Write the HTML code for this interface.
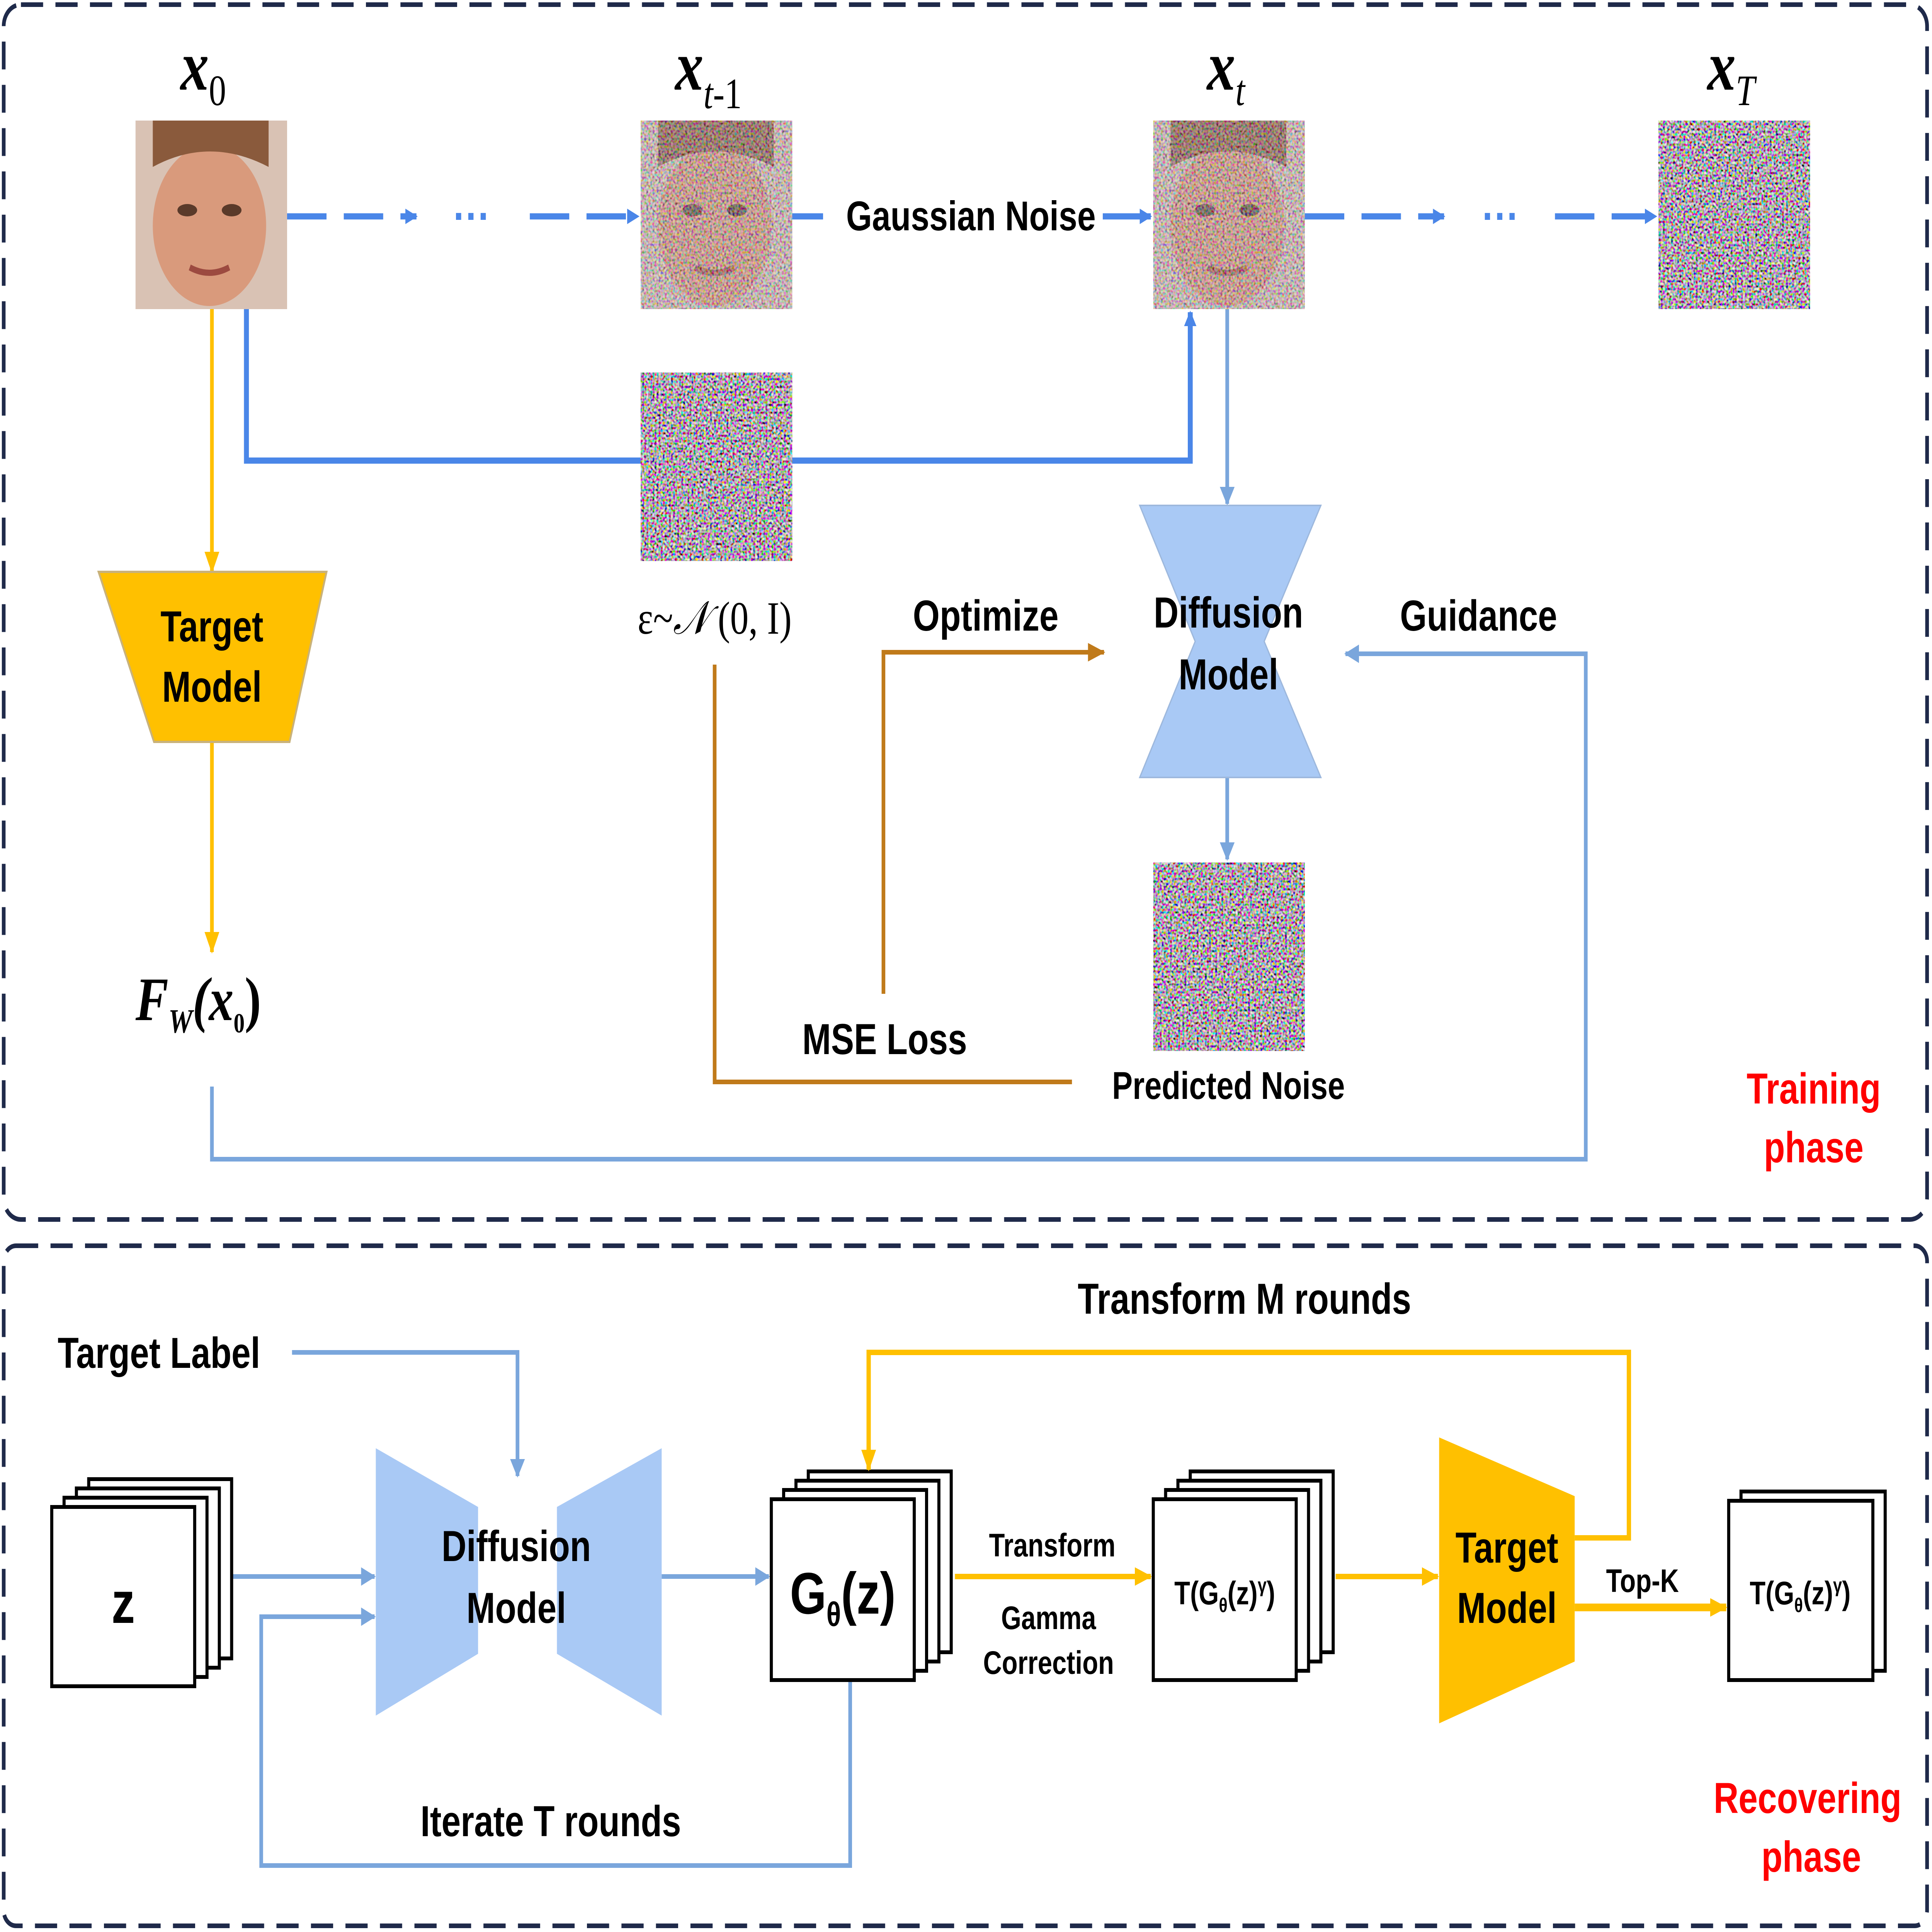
<!DOCTYPE html>
<html><head><meta charset="utf-8">
<style>html,body{margin:0;padding:0;background:#fff;width:100%;height:100%;overflow:hidden}svg{display:block;position:fixed;left:0;top:0;width:100vw;height:100vh}</style>
</head><body>
<svg viewBox="0 0 1568 1250" preserveAspectRatio="none" xmlns="http://www.w3.org/2000/svg" font-family="Liberation Sans, sans-serif">
<defs>
<filter id="nz" x="0" y="0" width="1" height="1" filterUnits="objectBoundingBox">
<feTurbulence type="fractalNoise" baseFrequency="0.6" numOctaves="1" seed="3"/>
<feColorMatrix type="matrix" values="2.4 0 0 0 -0.75  0 2.4 0 0 -0.8  0 0 2.4 0 -0.75  0 0 0 0 1"/>
</filter>
<filter id="nz2" x="0" y="0" width="1" height="1" filterUnits="objectBoundingBox">
<feTurbulence type="fractalNoise" baseFrequency="0.6" numOctaves="1" seed="8"/>
<feColorMatrix type="matrix" values="2.4 0 0 0 -0.75  0 2.4 0 0 -0.8  0 0 2.4 0 -0.75  0 0 0 0 0.5"/>
</filter>
<marker id="ab" markerWidth="10" markerHeight="10" refX="9" refY="5" orient="auto" markerUnits="userSpaceOnUse"><path d="M0,0 L10,5 L0,10 z" fill="#4a86e8"/></marker>
<marker id="al" markerWidth="12" markerHeight="12" refX="11" refY="6" orient="auto" markerUnits="userSpaceOnUse"><path d="M0,0 L12,6 L0,12 z" fill="#7aa6dc"/></marker>
<marker id="ao" markerWidth="14" markerHeight="12" refX="13" refY="6" orient="auto" markerUnits="userSpaceOnUse"><path d="M0,0 L14,6 L0,12 z" fill="#ffc000"/></marker>
<marker id="abr" markerWidth="14" markerHeight="12" refX="13" refY="6" orient="auto" markerUnits="userSpaceOnUse"><path d="M0,0 L14,6 L0,12 z" fill="#c07a1a"/></marker>
<g id="face">
<rect width="123" height="122" fill="#d9c2b4"/>
<ellipse cx="60" cy="68" rx="46" ry="52" fill="#d99a7c"/>
<path d="M14,0 H108 V30 Q60,10 14,30 Z" fill="#8a5a3c"/>
<ellipse cx="42" cy="58" rx="8" ry="4" fill="#5a3a2a"/>
<ellipse cx="78" cy="58" rx="8" ry="4" fill="#5a3a2a"/>
<path d="M44,95 Q60,102 76,95" stroke="#9c4a40" stroke-width="4" fill="none"/>
</g>
</defs>
<rect width="1568" height="1250" fill="#fff"/>
<rect x="3" y="3" width="1561" height="786" rx="14" fill="none" stroke="#1f2a4a" stroke-width="3" stroke-dasharray="18,10"/>
<rect x="3" y="806" width="1561" height="440" rx="10" fill="none" stroke="#1f2a4a" stroke-width="3" stroke-dasharray="18,10"/>

<g font-family="Liberation Serif, serif" font-style="italic" font-weight="bold" font-size="46" text-anchor="middle">
<text x="165" y="58">x<tspan font-size="28" dy="10" font-style="normal" font-weight="normal">0</tspan></text>
<text x="575" y="58">x<tspan font-size="28" dy="12" font-weight="normal">t</tspan><tspan font-size="28" font-style="normal" font-weight="normal">-1</tspan></text>
<text x="995" y="58">x<tspan font-size="28" dy="10" font-weight="normal">t</tspan></text>
<text x="1405" y="58">x<tspan font-size="28" dy="10" font-weight="normal">T</tspan></text>
</g>
<use href="#face" x="110" y="78"/>
<g transform="translate(520,78)"><use href="#face"/><rect width="123" height="122" fill="#fff" filter="url(#nz2)"/></g>
<g transform="translate(936,78)"><use href="#face"/><rect width="123" height="122" fill="#fff" filter="url(#nz2)"/></g>
<rect x="1346" y="78" width="123" height="122" filter="url(#nz)"/>
<rect x="520" y="241" width="123" height="122" filter="url(#nz)"/>
<rect x="936" y="558" width="123" height="122" filter="url(#nz)"/>

<g stroke="#4a86e8" stroke-width="4" fill="none" stroke-dasharray="32,14">
<line x1="233" y1="140" x2="338" y2="140" marker-end="url(#ab)"/>
<line x1="430" y1="140" x2="518" y2="140" marker-end="url(#ab)"/>
<line x1="1059" y1="140" x2="1172" y2="140" marker-end="url(#ab)"/>
<line x1="1262" y1="140" x2="1344" y2="140" marker-end="url(#ab)"/>
</g>
<g stroke="#4a86e8" stroke-width="4" fill="none">
<line x1="643" y1="140" x2="668" y2="140"/>
<line x1="895" y1="140" x2="934" y2="140" marker-end="url(#ab)"/>
<polyline points="200,200 200,298 520,298"/>
<polyline points="643,298 966,298 966,202" marker-end="url(#ab)"/>
</g>
<g fill="#4a86e8" font-size="30" font-weight="bold" text-anchor="middle"><text x="383" y="150">···</text><text x="1218" y="150">···</text></g>
<text x="788" y="149" font-size="27" font-weight="bold" text-anchor="middle">Gaussian Noise</text>
<text x="580" y="410" font-size="30" font-family="Liberation Serif, serif" text-anchor="middle">ε~<tspan font-style="italic">𝒩</tspan> (0, I)</text>

<g stroke="#ffc000" stroke-width="3" fill="none">
<line x1="172" y1="200" x2="172" y2="370" marker-end="url(#ao)"/>
<line x1="172" y1="480" x2="172" y2="616" marker-end="url(#ao)"/>
</g>
<polygon points="80,370 265,370 235,480 125,480" fill="#ffc000" stroke="#c9b27a" stroke-width="1.5"/>
<text x="172" y="415" font-size="28" font-weight="bold" text-anchor="middle">Target</text>
<text x="172" y="454" font-size="28" font-weight="bold" text-anchor="middle">Model</text>
<text x="110" y="660" font-size="40" font-family="Liberation Serif, serif" font-style="italic" font-weight="bold">F<tspan font-size="22" dy="8">W</tspan><tspan dy="-8">(x</tspan><tspan font-size="18" dy="8" font-style="normal">0</tspan><tspan dy="-8" font-style="normal">)</tspan></text>

<g stroke="#7aa6dc" stroke-width="3" fill="none">
<line x1="996" y1="200" x2="996" y2="326" marker-end="url(#al)"/>
<line x1="996" y1="503" x2="996" y2="556" marker-end="url(#al)"/>
<polyline points="172,703 172,750 1287,750 1287,423 1092,423" marker-end="url(#al)"/>
</g>
<polygon points="925,327 1072,327 1026,415 1072,503 925,503 970,415" fill="#a9c9f5" stroke="#9db8dd"/>
<text x="997" y="406" font-size="28" font-weight="bold" text-anchor="middle">Diffusion</text>
<text x="997" y="446" font-size="28" font-weight="bold" text-anchor="middle">Model</text>
<text x="1200" y="408" font-size="28" font-weight="bold" text-anchor="middle">Guidance</text>
<text x="800" y="408" font-size="28" font-weight="bold" text-anchor="middle">Optimize</text>
<text x="718" y="682" font-size="28" font-weight="bold" text-anchor="middle">MSE Loss</text>
<text x="997" y="711" font-size="25" font-weight="bold" text-anchor="middle">Predicted Noise</text>
<g stroke="#c07a1a" stroke-width="3" fill="none">
<polyline points="580,430 580,700 870,700"/>
<polyline points="717,643 717,422 896,422" marker-end="url(#abr)"/>
</g>
<text x="1472" y="714" font-size="28" font-weight="bold" fill="#ff0000" text-anchor="middle">Training</text>
<text x="1472" y="752" font-size="28" font-weight="bold" fill="#ff0000" text-anchor="middle">phase</text>

<text x="1010" y="850" font-size="28" font-weight="bold" text-anchor="middle">Transform M rounds</text>
<text x="129" y="885" font-size="28" font-weight="bold" text-anchor="middle">Target Label</text>
<g stroke="#7aa6dc" stroke-width="3" fill="none">
<polyline points="237,875 420,875 420,955" marker-end="url(#al)"/>
<line x1="158" y1="1020" x2="304" y2="1020" marker-end="url(#al)"/>
<line x1="537" y1="1020" x2="624" y2="1020" marker-end="url(#al)"/>
<polyline points="690,1087 690,1207 212,1207 212,1046 304,1046" marker-end="url(#al)"/>
</g>
<g stroke="#000" stroke-width="2.5" fill="#fff">
<rect x="72" y="957" width="116" height="116"/><rect x="62" y="963" width="116" height="116"/><rect x="52" y="969" width="116" height="116"/><rect x="42" y="975" width="116" height="116"/>
<rect x="656" y="952" width="116" height="117"/><rect x="646" y="958" width="116" height="117"/><rect x="636" y="964" width="116" height="117"/><rect x="626" y="970" width="116" height="117"/>
<rect x="966" y="952" width="116" height="117"/><rect x="956" y="958" width="116" height="117"/><rect x="946" y="964" width="116" height="117"/><rect x="936" y="970" width="116" height="117"/>
<rect x="1413" y="965" width="117" height="116"/><rect x="1403" y="971" width="117" height="116"/>
</g>
<text x="100" y="1050" font-size="38" font-weight="bold" text-anchor="middle">z</text>
<text x="684" y="1044" font-size="38" font-weight="bold" text-anchor="middle">G<tspan font-size="22" dy="8">θ</tspan><tspan dy="-8">(z)</tspan></text>
<text x="994" y="1038" font-size="21" font-weight="bold" text-anchor="middle">T(G<tspan font-size="13" dy="5">θ</tspan><tspan dy="-5">(z)</tspan><tspan font-size="13" dy="-8">γ</tspan><tspan dy="8">)</tspan></text>
<text x="1461" y="1038" font-size="21" font-weight="bold" text-anchor="middle">T(G<tspan font-size="13" dy="5">θ</tspan><tspan dy="-5">(z)</tspan><tspan font-size="13" dy="-8">γ</tspan><tspan dy="8">)</tspan></text>
<polygon points="305,937 388,975 388,1070 305,1110" fill="#a9c9f5"/>
<polygon points="537,937 452,975 452,1070 537,1110" fill="#a9c9f5"/>
<text x="419" y="1010" font-size="28" font-weight="bold" text-anchor="middle">Diffusion</text>
<text x="419" y="1050" font-size="28" font-weight="bold" text-anchor="middle">Model</text>
<text x="447" y="1188" font-size="28" font-weight="bold" text-anchor="middle">Iterate T rounds</text>
<g stroke="#ffc000" stroke-width="3.5" fill="none">
<line x1="775" y1="1020" x2="934" y2="1020" marker-end="url(#ao)"/>
<line x1="1084" y1="1020" x2="1167" y2="1020" marker-end="url(#ao)"/>
<polyline points="1278,995 1322,995 1322,875 705,875 705,951" marker-end="url(#ao)"/>
<line x1="1278" y1="1040" x2="1401" y2="1040" stroke-width="5" marker-end="url(#ao)"/>
</g>
<text x="854" y="1007" font-size="21" font-weight="bold" text-anchor="middle">Transform</text>
<text x="851" y="1054" font-size="21" font-weight="bold" text-anchor="middle">Gamma</text>
<text x="851" y="1083" font-size="21" font-weight="bold" text-anchor="middle">Correction</text>
<polygon points="1168,930 1278,968 1278,1075 1168,1115" fill="#ffc000"/>
<text x="1223" y="1011" font-size="28" font-weight="bold" text-anchor="middle">Target</text>
<text x="1223" y="1050" font-size="28" font-weight="bold" text-anchor="middle">Model</text>
<text x="1333" y="1030" font-size="21" font-weight="bold" text-anchor="middle">Top-K</text>
<text x="1467" y="1173" font-size="28" font-weight="bold" fill="#ff0000" text-anchor="middle">Recovering</text>
<text x="1470" y="1211" font-size="28" font-weight="bold" fill="#ff0000" text-anchor="middle">phase</text>
</svg>
</body></html>
